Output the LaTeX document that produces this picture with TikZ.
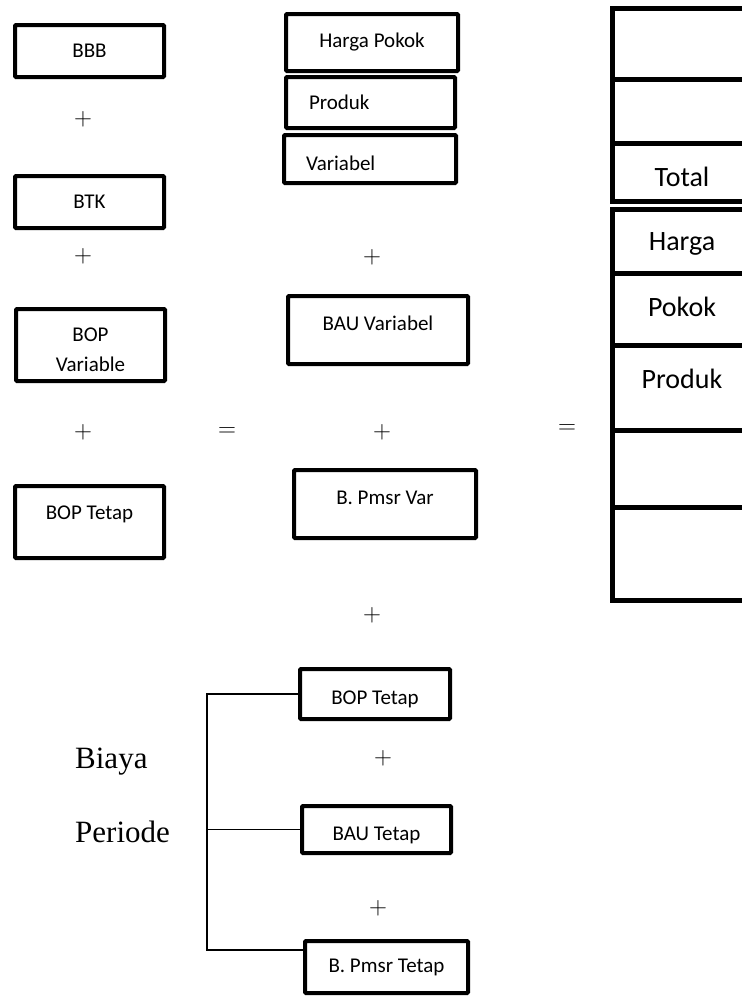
\documentclass[tikz,border=0pt]{standalone}
\usepackage{fontspec}
\setmainfont{Carlito}
\newfontfamily\serifbiaya{Liberation Serif}

\begin{document}
\begin{tikzpicture}[x=1pt, y=-1pt,
	kotak/.style={draw, line width=4pt, rounded corners=1pt, inner sep=0pt, align=center,
		font=\fontsize{21}{30}\selectfont},
	sel/.style={draw, line width=5pt, inner sep=0pt, minimum width=139pt,
		font=\fontsize{28}{30}\selectfont},
	geser/.style 2 args={text height=#1, text depth=#2},
	op/.style={inner sep=0pt, font=\fontsize{25}{25}\selectfont}]
	\useasboundingbox (0,0) rectangle (742,997);
	% kolom kiri
	\node[kotak, minimum width=149pt, minimum height=52pt] (bbb) at (89.5,51) {BBB};
	\node[op] (p1) at (83,119) {$+$};
	\node[kotak, minimum width=149pt, minimum height=52pt] (btk) at (89.5,202) {BTK};
	\node[op] (p2) at (83,256) {$+$};
	\node[kotak, minimum width=149pt, minimum height=72pt,
		label={[name=bopvteks, align=center, font=\fontsize{21}{30}\selectfont, yshift=-5pt]center:BOP\\Variable}] (bopv) at (90.5,345) {};
	\node[op] (p3) at (83,432) {$+$};
	\node[kotak, minimum width=149pt, minimum height=72pt, geser={14pt}{20pt}] (bopt) at (89.5,522) {BOP Tetap};
	\node[op] (s1) at (227,432) {$=$};
	% kolom tengah
	\node[kotak, minimum width=172pt, minimum height=57pt] (hp) at (372,42.5) {Harga Pokok};
	\node[kotak, minimum height=51pt, inner xsep=23pt, text width=123pt, align=left] (prod) at (370.5,102.5) {Produk};
	\node[kotak, minimum height=48pt, inner xsep=22pt, text width=128pt, align=left, geser={22pt}{0pt}] (var) at (370,159) {Variabel};
	\node[op] (p4) at (372,257) {$+$};
	\node[kotak, minimum width=180pt, minimum height=68pt, geser={14pt}{14pt}] (bauv) at (378,330) {BAU Variabel};
	\node[op] (p5) at (382,432) {$+$};
	\node[kotak, minimum width=182pt, minimum height=68pt, geser={14pt}{14pt}] (bpv) at (385,504) {B. Pmsr Var};
	\node[op] (p6) at (372,615) {$+$};
	\node[kotak, minimum width=150pt, minimum height=50pt, geser={20pt}{0pt}] (bopt2) at (375,694) {BOP Tetap};
	\node[op] (p7) at (383,758) {$+$};
	\node[kotak, minimum width=149pt, minimum height=47pt, geser={21pt}{0pt}] (baut) at (376.5,829.5) {BAU Tetap};
	\node[op] (p8) at (378,908) {$+$};
	\node[kotak, minimum width=163pt, minimum height=52pt] (bpt) at (386.5,967) {B. Pmsr Tetap};
	\node[op] (s2) at (567,429) {$=$};
	% biaya periode
	\node[anchor=base west, inner sep=0pt, font=\serifbiaya\fontsize{31}{31}\selectfont] (biaya) at (75,768) {Biaya};
	\node[anchor=base west, inner sep=0pt, font=\serifbiaya\fontsize{31}{31}\selectfont] (periode) at (75,842) {Periode};
	\coordinate (kurung) at (207,950);
	\draw[line width=1.3pt] (bopt2.west) -| (kurung) -- (kurung -| bpt.west);
	\draw[line width=1.3pt] (baut.west) -- (baut.west -| kurung);
	% kolom kanan
	\begin{scope}
		\clip (0,0) rectangle (742,997);
		\node[sel, minimum height=71pt] (k1) at (682,44) {};
		\node[sel, minimum height=64pt] (k2) at (682,111.5) {};
		\node[sel, minimum height=58pt, geser={27pt}{0pt}] (k3) at (682,172.5) {Total};
		\node[sel, minimum height=64pt, geser={18pt}{0pt}] (k4) at (682,241.5) {Harga};
		\node[sel, minimum height=72pt, geser={18pt}{5pt}] (k5) at (682,309.5) {Pokok};
		\node[sel, minimum height=84.5pt, geser={18pt}{16pt}] (k6) at (682,387.75) {Produk};
		\node[sel, minimum height=77.5pt] (k7) at (682,468.75) {};
		\node[sel, minimum height=93pt] (k8) at (682,554) {};
	\end{scope}
\end{tikzpicture}
\end{document}
